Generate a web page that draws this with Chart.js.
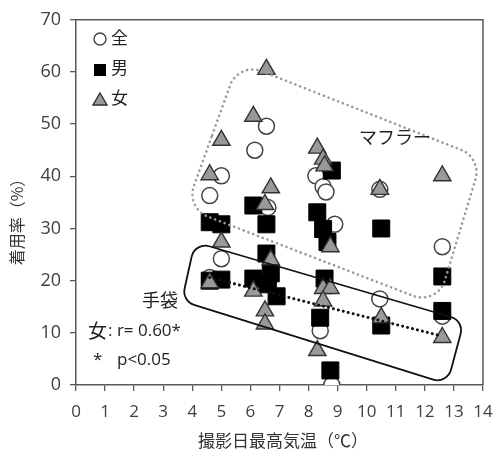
<!DOCTYPE html>
<html>
<head>
<meta charset="utf-8">
<script src="https://cdn.jsdelivr.net/npm/chart.js@4.4.0/dist/chart.umd.min.js"></script>
<style>
  html, body { margin: 0; padding: 0; background: #fff; }
</style>
</head>
<body>
<canvas id="scatterChart" width="496" height="451"></canvas>
<script>
// 全 (all)
const allTemp = [4.6, 5.0, 6.15, 6.55, 6.6, 8.25, 8.5, 8.6, 8.9, 10.45, 12.6,
                 4.6, 5.0, 6.1, 6.6, 8.4, 8.8, 10.45, 12.6];
const allRate = [36.3, 40.1, 45.0, 49.6, 34.0, 40.1, 38.0, 37.0, 30.8, 37.5, 26.5,
                 20.6, 24.2, 20.0, 19.5, 10.4, 0, 16.5, 13.2];
// 男 (male)
const maleTemp = [4.6, 5.0, 6.1, 6.55, 8.3, 8.5, 8.65, 8.8, 10.5, 12.6,
                  4.6, 5.0, 6.1, 6.55, 6.7, 6.6, 6.9, 8.55, 8.4, 8.75, 10.5, 12.6];
const maleRate = [31.2, 30.8, 34.4, 30.8, 33.1, 29.9, 27.4, 41.1, 30.0, 20.8,
                  20.0, 20.2, 20.4, 25.2, 21.4, 19.3, 17.0, 20.4, 12.9, 2.8, 11.4, 14.2];
// 女 (female)
const femaleTemp = [4.6, 5.0, 6.1, 6.55, 6.7, 6.5, 8.3, 8.5, 8.55, 8.75, 10.45, 12.6,
                    4.6, 5.0, 6.1, 6.5, 6.5, 6.7, 8.3, 8.5, 8.75, 8.5, 10.5, 12.6];
const femaleRate = [40.3, 46.9, 51.5, 60.5, 37.8, 34.6, 45.4, 43.3, 42.0, 26.5, 37.5, 40.1,
                    19.6, 27.4, 18.0, 14.2, 11.7, 24.0, 6.6, 18.5, 18.5, 16.1, 12.9, 9.1];
// 女 gloves fit line
const fitTemp = [4.6, 12.5];
const fitRate = [20.6, 9.5];

// annotation boxes (data units)
const mufflerBoxX = [5.59, 13.96, 12.43, 3.78];
const mufflerBoxY = [61.9, 43.5, 15.3, 33.9];
const gloveBoxX = [4.09, 13.35, 12.77, 3.64];
const gloveBoxY = [27.4, 12.3, 0.2, 16.1];

const jp = '"Noto Sans CJK JP", "Noto Sans", sans-serif';
const num = '"Open Sans", "Noto Sans", sans-serif';
const axisGray = '#595959';

function pts(xs, ys) {
  return xs.map((x, i) => ({x: x, y: ys[i]}));
}

function roundedPoly(ctx, p, r) {
  const n = p.length;
  const m = {x: (p[n - 1].x + p[0].x) / 2, y: (p[n - 1].y + p[0].y) / 2};
  ctx.beginPath();
  ctx.moveTo(m.x, m.y);
  for (let i = 0; i < n; i++) {
    const a = p[i], b = p[(i + 1) % n];
    ctx.arcTo(a.x, a.y, b.x, b.y, r);
  }
  ctx.closePath();
}

const overlay = {
  id: 'overlay',
  afterDatasetsDraw(chart) {
    const ctx = chart.ctx;
    const xs = chart.scales.x, ys = chart.scales.y;
    const toPx = (bx, by) => bx.map((v, i) => ({x: xs.getPixelForValue(v), y: ys.getPixelForValue(by[i])}));
    ctx.save();
    // マフラー box
    ctx.strokeStyle = '#9a9a9a';
    ctx.lineWidth = 2.6;
    ctx.lineCap = 'round';
    ctx.setLineDash([0.1, 5]);
    roundedPoly(ctx, toPx(mufflerBoxX, mufflerBoxY), 24);
    ctx.stroke();
    // 手袋 box
    ctx.setLineDash([]);
    ctx.strokeStyle = '#111';
    ctx.lineWidth = 1.8;
    roundedPoly(ctx, toPx(gloveBoxX, gloveBoxY), 14);
    ctx.stroke();
    ctx.restore();
  },
  afterDraw(chart) {
    const ctx = chart.ctx;
    const a = chart.chartArea;
    ctx.save();
    // frame top/right
    ctx.strokeStyle = axisGray;
    ctx.lineWidth = 1.5;
    ctx.beginPath();
    ctx.moveTo(a.left, a.top);
    ctx.lineTo(a.right, a.top);
    ctx.lineTo(a.right, a.bottom);
    ctx.stroke();

    ctx.fillStyle = '#222';
    ctx.textBaseline = 'middle';
    ctx.textAlign = 'center';
    ctx.font = '18px ' + jp;
    ctx.fillText('マフラー', 395, 137);
    ctx.fillText('手袋', 160, 300);

    ctx.textAlign = 'left';
    ctx.font = '19px ' + jp;
    ctx.fillText('女', 88, 331);
    ctx.font = '17px ' + num;
    ctx.fillText(': r= 0.60*', 108, 331);
    ctx.fillText('*', 93, 360);
    ctx.fillText('p<0.05', 117, 360);

    // legend
    ctx.font = '17px ' + jp;
    ctx.fillText('全', 111, 38);
    ctx.fillText('男', 111, 68);
    ctx.fillText('女', 111, 98);
    ctx.lineWidth = 1.4;
    ctx.strokeStyle = '#444';
    ctx.fillStyle = '#fff';
    ctx.beginPath();
    ctx.arc(100, 39, 6, 0, Math.PI * 2);
    ctx.fill();
    ctx.stroke();
    ctx.fillStyle = '#000';
    ctx.fillRect(94, 64, 12, 12);
    ctx.fillStyle = '#999';
    ctx.strokeStyle = '#333';
    ctx.beginPath();
    ctx.moveTo(100, 93);
    ctx.lineTo(107, 105);
    ctx.lineTo(93, 105);
    ctx.closePath();
    ctx.fill();
    ctx.stroke();

    // axis titles
    ctx.fillStyle = '#333';
    ctx.textAlign = 'center';
    ctx.font = '17px ' + jp;
    ctx.fillText('撮影日最高気温（℃）', 283, 441);
    ctx.translate(17, 218);
    ctx.rotate(-Math.PI / 2);
    ctx.font = '16px ' + jp;
    ctx.fillText('着用率（%）', 0, 0);
    ctx.restore();
  }
};

var scatterChart = document.getElementById('scatterChart').getContext('2d');
var chart1 = new Chart(scatterChart, {
  type: 'scatter',
  data: {
    datasets: [{
      label: '女',
      data: pts(femaleTemp, femaleRate),
      pointStyle: 'triangle',
      pointRadius: 10,
      backgroundColor: '#999999',
      borderColor: '#333333',
      borderWidth: 1.4,
      order: 1
    }, {
      label: '男',
      data: pts(maleTemp, maleRate),
      pointStyle: 'rect',
      pointRadius: 12,
      backgroundColor: '#000000',
      borderColor: '#000000',
      borderWidth: 1,
      order: 2
    }, {
      label: '全',
      data: pts(allTemp, allRate),
      pointStyle: 'circle',
      pointRadius: 8,
      backgroundColor: '#ffffff',
      borderColor: '#444444',
      borderWidth: 1.5,
      order: 3
    }, {
      type: 'line',
      label: 'fit',
      data: pts(fitTemp, fitRate),
      borderColor: '#111111',
      borderWidth: 3,
      borderDash: [0.1, 5],
      borderCapStyle: 'round',
      pointRadius: 0,
      fill: false,
      order: 0
    }]
  },
  options: {
    responsive: false,
    animation: false,
    events: [],
    layout: { padding: { top: 15, right: 0, left: 0, bottom: 0 } },
    plugins: {
      legend: { display: false },
      tooltip: { enabled: false }
    },
    scales: {
      x: {
        type: 'linear',
        min: 0,
        max: 14,
        ticks: { stepSize: 1, color: '#404040', font: { size: 17, family: num }, padding: 11, maxRotation: 0 },
        grid: { drawOnChartArea: false, tickLength: 6, color: axisGray, lineWidth: 1.3 },
        border: { color: axisGray, width: 1.5 },
        afterFit(s) { s.height = 66; s.paddingRight = 9; }
      },
      y: {
        min: 0,
        max: 70,
        ticks: { stepSize: 10, color: '#404040', font: { size: 18, family: num }, padding: 9 },
        grid: { drawOnChartArea: false, tickLength: 6, color: axisGray, lineWidth: 1.3 },
        border: { color: axisGray, width: 1.5 },
        afterFit(s) { s.width = 76; }
      }
    }
  },
  plugins: [overlay]
});
</script>
</body>
</html>
